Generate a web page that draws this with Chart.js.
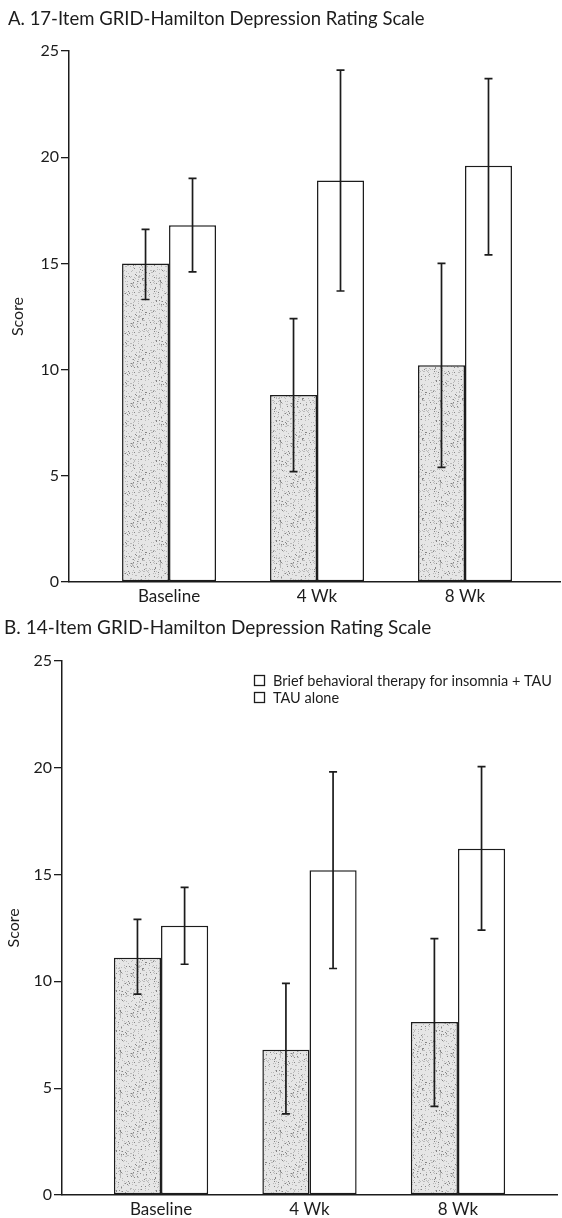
<!DOCTYPE html>
<html><head><meta charset="utf-8">
<script src="https://cdn.jsdelivr.net/npm/chart.js"></script>
<style>
html,body{margin:0;padding:0;background:#fff;}
#wrap{position:relative;width:562px;height:1218px;overflow:hidden;}
.panel{position:absolute;left:0;width:562px;}
#pA{top:0;height:610px;}
#pB{top:610px;height:608px;}
</style></head><body>
<div id="wrap">
<div class="panel" id="pA"><canvas id="cA" width="562" height="610"></canvas></div>
<div class="panel" id="pB"><canvas id="cB" width="562" height="608"></canvas></div>
</div>
<script>
// ---------- data ----------
const categories = ['Baseline', '4 Wk', '8 Wk'];
const seriesNames = ['Brief behavioral therapy for insomnia + TAU', 'TAU alone'];
const yTickValues = [0, 5, 10, 15, 20, 25];
const axisTitle = 'Score';
const titleA = 'A. 17-Item GRID-Hamilton Depression Rating Scale';
const titleB = 'B. 14-Item GRID-Hamilton Depression Rating Scale';

const aBbti = [15.0, 8.8, 10.2];
const aBbtiHigh = [16.6, 12.4, 15.0];
const aBbtiLow = [13.3, 5.2, 5.4];
const aTau = [16.8, 18.9, 19.6];
const aTauHigh = [19.0, 24.1, 23.7];
const aTauLow = [14.6, 13.7, 15.4];

const bBbti = [11.1, 6.8, 8.1];
const bBbtiHigh = [12.9, 9.9, 12.0];
const bBbtiLow = [9.4, 3.8, 4.15];
const bTau = [12.6, 15.2, 16.2];
const bTauHigh = [14.4, 19.8, 20.05];
const bTauLow = [10.8, 10.6, 12.4];

// ---------- styling ----------
const FONT = 'Lato, "Open Sans", sans-serif';
const INK = '#1c1c1c';

function stipplePattern() {
  const c = document.createElement('canvas');
  c.width = 40; c.height = 40;
  const g = c.getContext('2d');
  g.fillStyle = '#e6e6e6';
  g.fillRect(0, 0, 40, 40);
  for (let y = 0; y < 40; y++) {
    for (let x = 0; x < 40; x++) {
      const h = (((x * 2654435761) ^ (y * 40503 + x * 97)) >>> 0) % 101;
      if (h < 4) { g.fillStyle = '#858585'; g.fillRect(x, y, 1, 1); }
      else if (h < 15) { g.fillStyle = '#bababa'; g.fillRect(x, y, 1, 1); }
    }
  }
  return g.createPattern(c, 'repeat');
}
const grayFill = stipplePattern();

const errorBars = {
  id: 'errorBars',
  afterDatasetsDraw(chart) {
    const ctx = chart.ctx, ys = chart.scales.y;
    chart.data.datasets.forEach((ds, di) => {
      const meta = chart.getDatasetMeta(di);
      meta.data.forEach((bar, i) => {
        const x = bar.x;
        const yH = ys.getPixelForValue(ds.errHigh[i]);
        const yL = ys.getPixelForValue(ds.errLow[i]);
        ctx.save();
        ctx.strokeStyle = INK;
        ctx.lineWidth = 1.7;
        ctx.beginPath();
        ctx.moveTo(x, yH); ctx.lineTo(x, yL);
        ctx.moveTo(x - 4, yH); ctx.lineTo(x + 4, yH);
        ctx.moveTo(x - 4, yL); ctx.lineTo(x + 4, yL);
        ctx.stroke();
        ctx.restore();
      });
    });
  }
};

const boxLegend = {
  id: 'boxLegend',
  afterDraw(chart, args, opts) {
    if (!opts || !opts.show) return;
    const ctx = chart.ctx;
    ctx.save();
    ctx.font = opts.fontSize + 'px ' + FONT;
    ctx.textBaseline = 'middle';
    chart.data.datasets.forEach((ds, i) => {
      const cy = opts.y + i * opts.lineGap;
      ctx.fillStyle = '#fff';
      ctx.fillRect(opts.x, cy - 5.5, 11, 11);
      ctx.strokeStyle = INK;
      ctx.lineWidth = 1.3;
      ctx.strokeRect(opts.x + 0.5, cy - 5.5, 10, 10);
      ctx.fillStyle = INK;
      ctx.fillText(ds.label, opts.x + 19, cy);
    });
    ctx.restore();
  }
};

function makeChart(id, c) {
  const mk = (vals) => vals.map((v, i) => ({ x: i, y: v }));
  return new Chart(document.getElementById(id), {
    type: 'bar',
    data: {
      datasets: [
        { label: seriesNames[0], data: mk(c.bbti), errHigh: c.bbtiHigh, errLow: c.bbtiLow,
          backgroundColor: grayFill, borderColor: INK, borderWidth: 1.5, borderSkipped: false },
        { label: seriesNames[1], data: mk(c.tau), errHigh: c.tauHigh, errLow: c.tauLow,
          backgroundColor: '#ffffff', borderColor: INK, borderWidth: 1.5, borderSkipped: false }
      ]
    },
    options: {
      responsive: false,
      animation: false,
      devicePixelRatio: 1,
      categoryPercentage: 0.635,
      barPercentage: 1.0,
      layout: { padding: { left: c.padLeft, right: c.padRight, top: 0, bottom: 0 } },
      plugins: {
        legend: { display: false },
        tooltip: { enabled: false },
        title: {
          display: true, text: c.title, align: 'start', color: INK,
          font: { family: FONT, size: c.titleSize, weight: 'normal' },
          padding: { top: c.titlePadTop, bottom: c.titlePadBottom }
        },
        boxLegend: c.legend
      },
      scales: {
        x: {
          type: 'linear', position: 'bottom', min: c.xMin, max: c.xMax, offset: false,
          grid: { display: false, drawTicks: false },
          border: { display: true, color: INK, width: 1.5 },
          afterBuildTicks: (s) => { s.ticks = categories.map((_, i) => ({ value: i })); },
          afterFit: (s) => { s.height = c.xAxisH; },
          ticks: {
            autoSkip: false, maxRotation: 0, padding: 4, color: INK,
            font: { family: FONT, size: 17 },
            callback: (v) => categories[v] !== undefined ? categories[v] : ''
          }
        },
        y: {
          min: 0, max: 25,
          afterBuildTicks: (s) => { s.ticks = yTickValues.map(v => ({ value: v })); },
          afterFit: (s) => { s.width = c.yAxisW; },
          grid: { display: true, drawOnChartArea: false, drawTicks: true, tickLength: 8, color: INK, lineWidth: 1.3 },
          border: { display: true, color: INK, width: 1.5 },
          ticks: { padding: 2, color: INK, font: { family: FONT, size: 16 } },
          title: { display: true, text: axisTitle, color: INK, font: { family: FONT, size: 16 }, padding: { top: c.yTitlePad, bottom: 0 } }
        }
      }
    },
    plugins: [errorBars, boxLegend]
  });
}

makeChart('cA', {
  title: titleA, titleSize: 18.5, titlePadTop: 8, titlePadBottom: 20.8,
  bbti: aBbti, bbtiHigh: aBbtiHigh, bbtiLow: aBbtiLow,
  tau: aTau, tauHigh: aTauHigh, tauLow: aTauLow,
  padLeft: 8, yAxisW: 61, padRight: 2, xAxisH: 28, xMin: -0.676, xMax: 2.642, yTitlePad: 0,
  legend: { show: false }
});

makeChart('cB', {
  title: titleB, titleSize: 19, titlePadTop: 6, titlePadBottom: 22,
  bbti: bBbti, bbtiHigh: bBbtiHigh, bbtiLow: bBbtiLow,
  tau: bTau, tauHigh: bTauHigh, tauLow: bTauLow,
  padLeft: 4, yAxisW: 58, padRight: 5, xAxisH: 23, xMin: -0.667, xMax: 2.667, yTitlePad: 0,
  legend: { show: true, x: 254, y: 71, lineGap: 17, fontSize: 14.5 }
});
</script>
</body></html>
